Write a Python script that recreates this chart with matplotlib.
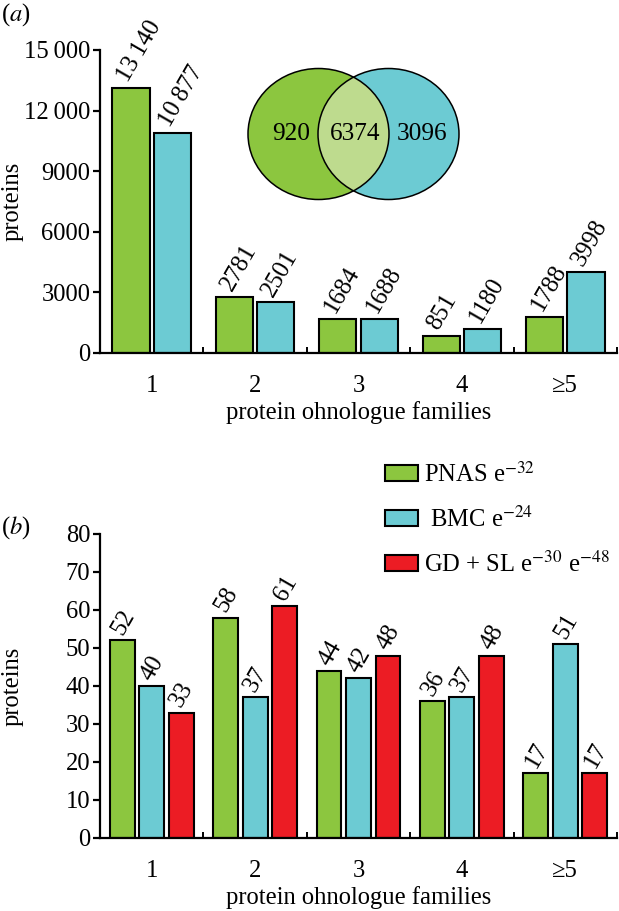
import matplotlib
matplotlib.use("Agg")
import matplotlib.pyplot as plt
import numpy as np
from matplotlib.patches import Ellipse, Patch

plt.rcParams['font.family'] = ['Liberation Serif', 'DejaVu Serif']
plt.rcParams['mathtext.fontset'] = 'stix'

# ---------------- data ----------------
categories = ['1', '2', '3', '4', '\u22655']
a_pnas = [13140, 2781, 1684, 851, 1788]
a_bmc = [10877, 2501, 1688, 1180, 3998]
venn_only_pnas = 920
venn_both = 6374
venn_only_bmc = 3096
b_pnas = [52, 58, 44, 36, 17]
b_bmc = [40, 37, 42, 37, 51]
b_gdsl = [33, 61, 48, 48, 17]
a_yticks = [0, 3000, 6000, 9000, 12000, 15000]
a_yticklabels = ['0', '3000', '6000', '9000', '12\u2009000', '15\u2009000']
b_yticks = [0, 10, 20, 30, 40, 50, 60, 70, 80]
legend_labels = ['PNAS e$^{-32}$', ' BMC e$^{-24}$', 'GD + SL e$^{-30}$ e$^{-48}$']

GREEN = '#8CC63F'
CYAN = '#6CCBD3'
RED = '#EC1C24'
LIGHT = '#BEDB8E'

W, H = 619, 911
fig = plt.figure(figsize=(W / 100, H / 100), dpi=100)
FS = 17.7
ROT = 60

def style_axes(ax, ymax, yticks, yticklabels):
    ax.set_xlim(-0.5, 4.5)
    ax.set_ylim(0, ymax)
    for s in ['top', 'right']:
        ax.spines[s].set_visible(False)
    for s in ['left', 'bottom']:
        ax.spines[s].set_linewidth(1.6)
    ax.set_yticks(yticks)
    ax.set_yticklabels(yticklabels, fontsize=FS)
    ax.tick_params(axis='y', direction='out', length=5, width=1.6, pad=2)
    ax.set_xticks([0.5, 1.5, 2.5, 3.5, 4.5])
    ax.set_xticklabels([])
    ax.tick_params(axis='x', which='major', direction='in', length=4.5, width=1.4)
    ax.set_xticks(np.arange(5), minor=True)
    ax.set_xticklabels(categories, minor=True, fontsize=FS)
    ax.tick_params(axis='x', which='minor', length=0, pad=16)
    ax.set_xlabel('protein ohnologue families', fontsize=FS, labelpad=3)
    ax.set_ylabel('proteins', fontsize=FS)
    ax.yaxis.set_label_coords(-0.148, 0.5)

def fmt(v):
    return str(v) if v < 10000 else f"{v // 1000}\u2009{v % 1000:03d}"

def label_bars(ax, xs, vals, dx, dy):
    for xx, v in zip(xs, vals):
        ax.annotate(fmt(v), xy=(xx, v), xytext=(dx, dy), textcoords='offset points',
                    rotation=ROT, rotation_mode='anchor', ha='left', va='baseline',
                    fontsize=FS)

# ---------------- panel a ----------------
axa = fig.add_axes([100 / W, 1 - 353 / H, 517 / W, 303 / H])
x = np.arange(len(categories))
wa, oa = 0.36, 0.2
axa.bar(x - oa, a_pnas, wa, color=GREEN, edgecolor='black', linewidth=1.5)
axa.bar(x + oa, a_bmc, wa, color=CYAN, edgecolor='black', linewidth=1.5)
style_axes(axa, 15000, a_yticks, a_yticklabels)
label_bars(axa, x - oa, a_pnas, -2.0, 3.5)
label_bars(axa, x + oa, a_bmc, -2.0, 3.5)

# Venn inset (pixel coordinates overlay)
axv = fig.add_axes([0, 0, 1, 1])
axv.set_xlim(0, W)
axv.set_ylim(H, 0)
axv.axis('off')
e1 = Ellipse((318.5, 134), 141, 131, facecolor=GREEN, edgecolor='none')
e2 = Ellipse((388.5, 134), 141, 131, facecolor=CYAN, edgecolor='none')
axv.add_patch(e1)
axv.add_patch(e2)
e3 = Ellipse((388.5, 134), 141, 131, facecolor=LIGHT, edgecolor='none')
axv.add_patch(e3)
e3.set_clip_path(e1)
for cx in (318.5, 388.5):
    axv.add_patch(Ellipse((cx, 134), 141, 131, facecolor='none', edgecolor='black', linewidth=1.1))
axv.text(291, 134, str(venn_only_pnas), ha='center', va='center', fontsize=FS + 0.5)
axv.text(355, 134, str(venn_both), ha='center', va='center', fontsize=FS + 0.5)
axv.text(422, 134, str(venn_only_bmc), ha='center', va='center', fontsize=FS + 0.5)
axv.text(1, 15, '($a$)', ha='left', va='center', fontsize=FS)
axv.text(1, 528, '($b$)', ha='left', va='center', fontsize=FS)

# ---------------- panel b ----------------
axb = fig.add_axes([100 / W, 1 - 838 / H, 517 / W, 304 / H])
wb, ob = 0.24, 0.285
axb.bar(x - ob, b_pnas, wb, color=GREEN, edgecolor='black', linewidth=1.5)
axb.bar(x, b_bmc, wb, color=CYAN, edgecolor='black', linewidth=1.5)
axb.bar(x + ob, b_gdsl, wb, color=RED, edgecolor='black', linewidth=1.5)
style_axes(axb, 80, b_yticks, [str(t) for t in b_yticks])
label_bars(axb, x - ob, b_pnas, 0, 3)
label_bars(axb, x, b_bmc, 0, 3)
label_bars(axb, x + ob, b_gdsl, 0, 3)

handles = [Patch(facecolor=c, edgecolor='black', linewidth=1.5) for c in (GREEN, CYAN, RED)]
fig.legend(handles, legend_labels, loc='upper left', bbox_to_anchor=(385 / W, 1 - 462 / H),
           frameon=False, fontsize=FS, handlelength=1.35, handleheight=0.62,
           handletextpad=0.22, labelspacing=0.8, borderpad=0, borderaxespad=0)

fig.savefig('out.png', dpi=100)
